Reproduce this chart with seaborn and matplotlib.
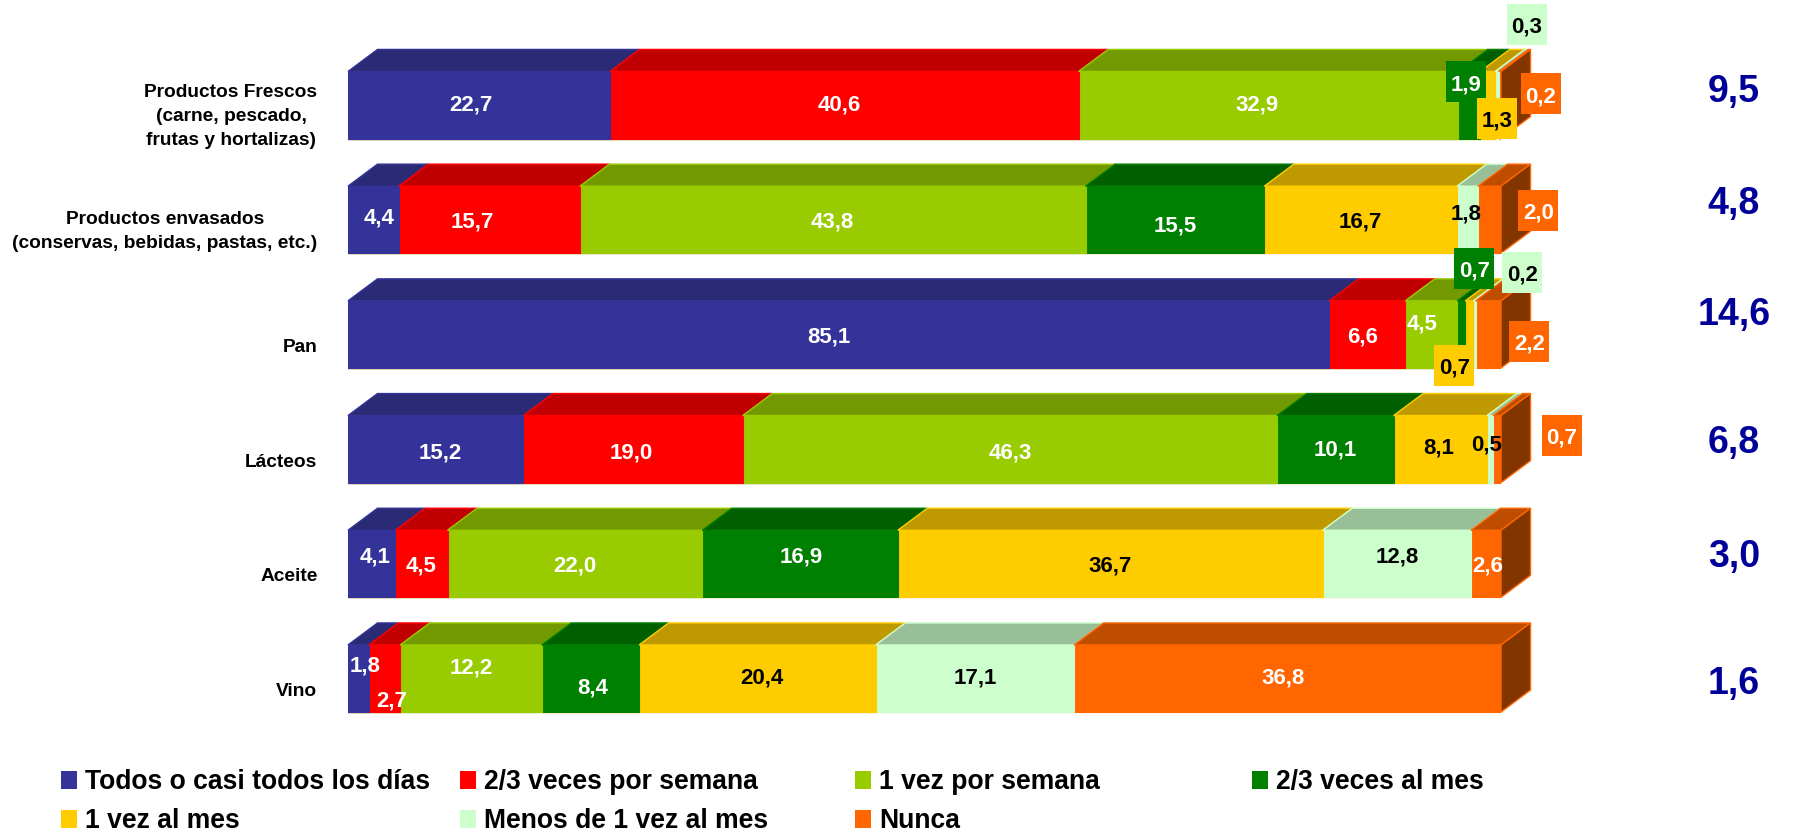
"""100% stacked pseudo-3D bars: purchase frequency by product type."""
import matplotlib
matplotlib.use("Agg")
import matplotlib.pyplot as plt
import matplotlib.transforms as mtransforms
from matplotlib.patches import Patch, Polygon, Rectangle
import numpy as np
import pandas as pd
import seaborn as sns

categories = [
    "Productos Frescos\n(carne, pescado,\nfrutas y hortalizas)",
    "Productos envasados\n(conservas, bebidas, pastas, etc.)",
    "Pan",
    "Lácteos",
    "Aceite",
    "Vino",
]
series_names = [
    "Todos o casi todos los días",
    "2/3 veces por semana",
    "1 vez por semana",
    "2/3 veces al mes",
    "1 vez al mes",
    "Menos de 1 vez al mes",
    "Nunca",
]
todos = [22.7, 4.4, 85.1, 15.2, 4.1, 1.8]
veces_semana = [40.6, 15.7, 6.6, 19.0, 4.5, 2.7]
una_semana = [32.9, 43.8, 4.5, 46.3, 22.0, 12.2]
veces_mes = [1.9, 15.5, 0.7, 10.1, 16.9, 8.4]
una_mes = [1.3, 16.7, 0.7, 8.1, 36.7, 20.4]
menos_mes = [0.3, 1.8, 0.2, 0.5, 12.8, 17.1]
nunca = [0.2, 2.0, 2.2, 0.7, 2.6, 36.8]
totals = [9.5, 4.8, 14.6, 6.8, 3.0, 1.6]

colors = ["#333399", "#FF0000", "#99CC00", "#008000", "#FFCC00", "#CCFFCC", "#FF6600"]
top_colors = ["#2A2A75", "#C00000", "#739900", "#006000", "#BF9900", "#99BF99", "#BF4D00"]
side_color = "#833500"
text_colors = ["white", "white", "white", "white", "black", "black", "white"]

# label nudges in pixels from the segment centre: (row, series): (dx, dy)
label_offsets = {
    (0, 0): (-8, -3), (0, 1): (-5, -3), (0, 2): (-11, -3), (0, 3): (-3, -23),
    (0, 4): (9, 14), (0, 5): (30, -80), (0, 6): (41, -11),
    (1, 0): (6, -4), (1, 1): (-17, 0), (1, 3): (0, 4), (1, 5): (-1, -8), (1, 6): (49, -9),
    (2, 0): (-10, 0), (2, 1): (-5, 0), (2, 2): (-9, -13), (2, 3): (13, -66),
    (2, 4): (-15, 31), (2, 5): (48, -62), (2, 6): (41, 7),
    (3, 0): (5, 1), (3, 1): (-2, 1), (3, 2): (0, 1), (3, 3): (0, -2),
    (3, 4): (-2, -4), (3, 5): (-3, -7), (3, 6): (65, -14),
    (4, 0): (3, -9), (4, 3): (1, -9), (4, 5): (0, -9), (4, 6): (2, 0),
    (5, 0): (7, -15), (5, 1): (7, 20), (5, 2): (0, -13), (5, 3): (2, 7),
    (5, 4): (4, -3), (5, 5): (0, -3), (5, 6): (-5, -3),
}
boxed_labels = [(0, 3), (0, 4), (0, 5), (0, 6), (1, 6), (2, 3), (2, 4), (2, 5), (2, 6), (3, 6)]
total_offsets = [-17, -20, -23, -10, -11, 1]

W, H = 1820, 838
X0, X1 = 348, 1501          # front face of the bars, pixels
ROW_Y0, ROW_STEP = 105, 114.7
AX_BOTTOM = 760
DEPTH_X, DEPTH_Y = 29.5, 22  # pixels of the fake perspective
PX_X = 100 / (X1 - X0)
PX_Y = 1 / ROW_STEP
BAR_W = 0.585
FONT = "Liberation Sans"
LEGEND_SIZE = 19.1

sns.set_theme(style="white")
plt.rcParams["font.family"] = [FONT, "DejaVu Sans"]
plt.rcParams["font.weight"] = "bold"
plt.rcParams["text.color"] = "black"

values = np.array([todos, veces_semana, una_semana, veces_mes, una_mes, menos_mes, nunca])
shares = values / values.sum(axis=0) * 100
cum = shares.cumsum(axis=0)
left = cum - shares

df = pd.DataFrame(cum.T, columns=series_names)
df.insert(0, "categoria", categories)

fig = plt.figure(figsize=(W / 100, H / 100), dpi=100)
ax = fig.add_axes([X0 / W, 1 - AX_BOTTOM / H, (X1 - X0) / W, AX_BOTTOM / H])

# longest cumulative first, so each shorter bar paints over it
for i in reversed(range(len(series_names))):
    sns.barplot(data=df, x=series_names[i], y="categoria", order=categories, color=colors[i],
                saturation=1, width=BAR_W, errorbar=None, edgecolor=colors[i], linewidth=0.8, ax=ax)

ax.set_xlim(0, 100)
ax.set_ylim((AX_BOTTOM - ROW_Y0) * PX_Y, -ROW_Y0 * PX_Y)
ax.set_xlabel("")
ax.set_ylabel("")
ax.set_xticks([])
sns.despine(ax=ax, left=True, bottom=True)
ax.patch.set_alpha(0)
ax.tick_params(axis="y", length=0, pad=22)

for lab in ax.get_yticklabels():
    lab.set_fontsize(13.8)
    lab.set_fontweight("bold")
    lab.set_color("black")
    lab.set_multialignment("center")
    lab.set_linespacing(1.55)
    # names sit low against their bars, the multi-line ones a bit less so
    drop = 6 if "\n" in lab.get_text() else 11
    shift = mtransforms.ScaledTranslation(0, -drop / 100, fig.dpi_scale_trans)
    lab.set_transform(lab.get_transform() + shift)

dx, dy = DEPTH_X * PX_X, DEPTH_Y * PX_Y
for r in range(len(categories)):
    top = r - BAR_W / 2
    bottom = r + BAR_W / 2
    for s in range(len(series_names)):
        a, b = left[s, r], cum[s, r]
        ax.add_patch(Polygon([(a, top), (b, top), (b + dx, top - dy), (a + dx, top - dy)],
                             facecolor=top_colors[s], edgecolor=colors[s], linewidth=1, zorder=3, clip_on=False))
    end = cum[-1, r]
    ax.add_patch(Polygon([(end, top), (end + dx, top - dy), (end + dx, bottom - dy), (end, bottom)],
                         facecolor=side_color, edgecolor=colors[-1], linewidth=1, zorder=3, clip_on=False))

    for s in range(len(series_names)):
        ox, oy = label_offsets.get((r, s), (0, 0))
        cx = (left[s, r] + cum[s, r]) / 2 + ox * PX_X
        cy = r + oy * PX_Y
        if (r, s) in boxed_labels:
            bw, bh = 40 * PX_X, 41 * PX_Y
            ax.add_patch(Rectangle((cx - bw / 2, cy - bh / 2), bw, bh, facecolor=colors[s],
                                   edgecolor="none", zorder=5, clip_on=False))
        ax.text(cx, cy, f"{values[s, r]:.1f}".replace(".", ","), color=text_colors[s], fontsize=16,
                fontweight="bold", ha="center", va="center_baseline", zorder=6, clip_on=False)

    ax.text((1734 - X0) * PX_X, r + total_offsets[r] * PX_Y, f"{totals[r]:.1f}".replace(".", ","),
            color="#000099", fontsize=27, fontweight="bold", ha="center", va="center_baseline", clip_on=False)

# one legend per column so the column starts stay evenly spaced
for col, x in enumerate([61, 460, 855, 1252]):
    idx = [i for i in (col, col + 4) if i < len(series_names)]
    handles = [Patch(facecolor=colors[i], edgecolor="none", label=series_names[i]) for i in idx]
    fig.legend(handles=handles, loc="upper left", bbox_to_anchor=(x / W, 1 - 769 / H), frameon=False,
               borderpad=0, borderaxespad=0, handlelength=0.6, handleheight=0.65, handletextpad=0.3,
               labelspacing=0.5, labelcolor="black", prop={"family": FONT, "weight": "bold", "size": LEGEND_SIZE})

fig.savefig("out.png", dpi=100, facecolor="white")
